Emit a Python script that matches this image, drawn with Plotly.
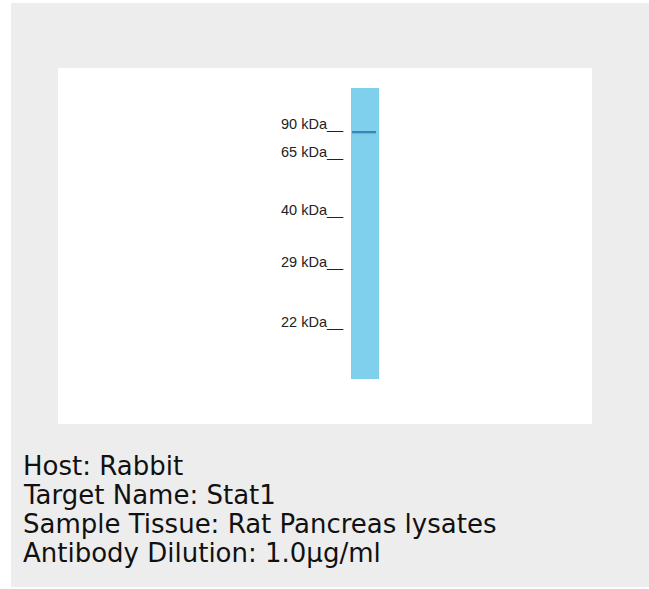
import plotly.graph_objects as go

# Molecular weight ladder: labels and their migration positions (image px from top)
marker_labels = ["90 kDa", "65 kDa", "40 kDa", "29 kDa", "22 kDa"]
marker_y = [124, 152, 210, 262, 322]

# Lane extent and detected band (image px)
lane_x = [351, 379]
lane_y = [88, 379]
band_y = [132]
band_x = [352, 376]
band_strength = [0.8]

# Caption lines
caption = [
    "Host: Rabbit",
    "Target Name: Stat1",
    "Sample Tissue: Rat Pancreas lysates",
    "Antibody Dilution: 1.0µg/ml",
]
caption_y = [466, 495, 524, 553]

W, H = 649, 589
fig = go.Figure()

# Lane drawn as a bar on the axes
fig.add_trace(go.Bar(
    x=[(lane_x[0] + lane_x[1]) / 2], y=[lane_y[1] - lane_y[0]], base=[lane_y[0]],
    width=[lane_x[1] - lane_x[0]], marker=dict(color="#7ed0ec", line=dict(width=0)),
    hoverinfo="skip", showlegend=False,
))

# Bands
for by, s in zip(band_y, band_strength):
    fig.add_trace(go.Scatter(
        x=band_x, y=[by, by], mode="lines",
        line=dict(color=f"rgba(40,100,160,{s})", width=1.8),
        hoverinfo="skip", showlegend=False,
    ))
    fig.add_trace(go.Scatter(
        x=band_x, y=[by + 1.5, by + 1.5], mode="lines",
        line=dict(color=f"rgba(60,130,180,{s*0.35})", width=1.5),
        hoverinfo="skip", showlegend=False,
    ))

shapes = [
    dict(type="rect", xref="x", yref="y", x0=11, x1=649, y0=3, y1=587,
         fillcolor="#ededed", line=dict(width=0), layer="below"),
    dict(type="rect", xref="x", yref="y", x0=58, x1=592, y0=68, y1=424,
         fillcolor="#ffffff", line=dict(width=0), layer="below"),
]

annotations = []
for lab, y in zip(marker_labels, marker_y):
    annotations.append(dict(
        x=346, y=y, xref="x", yref="y", text=lab + "__", showarrow=False,
        xanchor="right", yanchor="middle",
        font=dict(family="Liberation Sans, Arial", size=14.5, color="#222222"),
    ))
for line, y in zip(caption, caption_y):
    annotations.append(dict(
        x=21, y=y, xref="x", yref="y", text=line, showarrow=False,
        xanchor="left", yanchor="middle",
        font=dict(family="DejaVu Sans", size=26, color="#111111"),
    ))

fig.update_layout(
    width=W, height=H, margin=dict(l=0, r=0, t=0, b=0),
    paper_bgcolor="#ffffff", plot_bgcolor="rgba(0,0,0,0)",
    shapes=shapes, annotations=annotations, bargap=0,
    xaxis=dict(range=[0, W], visible=False, fixedrange=True),
    yaxis=dict(range=[H, 0], visible=False, fixedrange=True),
)

fig.write_html(
    "out.html",
    config={"displayModeBar": False},
    post_script="document.body.style.margin='0';document.body.style.overflow='hidden';",
)
